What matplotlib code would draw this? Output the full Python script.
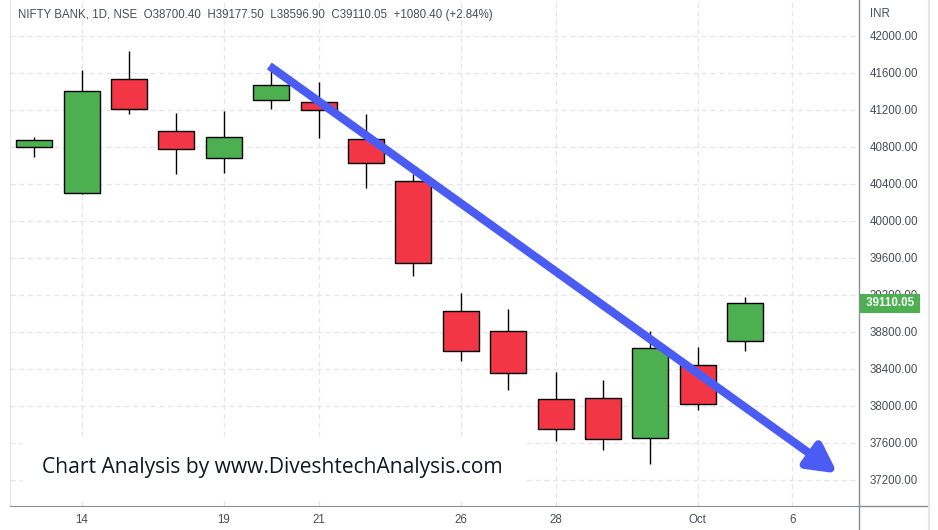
import matplotlib.pyplot as plt
from matplotlib.lines import Line2D
from matplotlib.transforms import blended_transform_factory

# daily candles, NIFTY BANK, 13 Sep - 4 Oct
opens = [40797, 40299, 41532, 40970, 40678, 41308, 41283, 40883,
         40429, 39027, 38807, 38072, 38083, 37651, 38440, 38700.40]
highs = [40908, 41632, 41838, 41164, 41189, 41654, 41506, 41157,
         40508, 39218, 39049, 38364, 38281, 38811, 38638, 39177.50]
lows = [40695, 40290, 41160, 40505, 40516, 41214, 40894, 40360,
        39409, 38490, 38176, 37622, 37524, 37376, 37960, 38596.90]
closes = [40872, 41405, 41208, 40775, 40908, 41467, 41197, 40624,
          39543, 38598, 38353, 37748, 37640, 38624, 38018, 39110.05]

tick_pos = [1, 4, 6, 9, 11, 14, 16]
tick_labels = ["14", "19", "21", "26", "28", "Oct", "6"]
price_ticks = [37200, 37600, 38000, 38400, 38800, 39200, 39600,
               40000, 40400, 40800, 41200, 41600, 42000]

trend_start = (4.96, 41676)
trend_end = (16.95, 37270)

title = ("NIFTY BANK, 1D, NSE  O38700.40  H39177.50  L38596.90  "
         "C39110.05  +1080.40 (+2.84%)")
watermark = "Chart Analysis by www.DiveshtechAnalysis.com"

GREEN = "#4caf50"
RED = "#f23645"
GRID = "#e3e5ea"
AXIS = "#8a8d96"
TXT = "#4a4d57"

W, H = 938, 530
fig = plt.figure(figsize=(W / 100, H / 100), dpi=100)
ax_left, ax_right, ax_bottom = 10, 859.3, 505.5
ax = fig.add_axes([ax_left / W, (H - ax_bottom) / H,
                   (ax_right - ax_left) / W, ax_bottom / H])

for i in range(len(opens)):
    o, h, l, c = opens[i], highs[i], lows[i], closes[i]
    col = GREEN if c >= o else RED
    ax.vlines(i, l, h, color="black", lw=1, zorder=2)
    ax.bar(i, abs(c - o), bottom=min(o, c), width=0.76, color=col,
           edgecolor="black", linewidth=1, zorder=3)

ax.annotate("", xy=trend_end, xytext=trend_start,
            arrowprops=dict(arrowstyle="-|>,head_length=0.85,head_width=0.45",
                            color="#4b5cf5", lw=6, mutation_scale=20,
                            shrinkA=0, shrinkB=0, capstyle="butt"),
            zorder=5)

ax.set_xlim(-0.513, 17.41)
ax.set_ylim(36924, 42389)

ax.set_axisbelow(True)
ax.set_xticks(tick_pos)
ax.set_xticklabels(tick_labels)
ax.set_yticks(price_ticks)
ax.set_yticklabels(["%.2f" % p for p in price_ticks])
ax.yaxis.tick_right()
ax.tick_params(axis="y", length=0, pad=7.5, labelsize=8.3, labelcolor=TXT)
ax.tick_params(axis="x", length=0, pad=6, labelsize=8.3, labelcolor=TXT)
for lab in ax.get_xticklabels() + ax.get_yticklabels():
    lab.set_fontfamily("Liberation Sans")
ax.grid(True, color=GRID, lw=0.9, linestyle=(0, (4, 3)))

ax.spines["top"].set_visible(False)
ax.spines["left"].set_color(GRID)
ax.spines["right"].set_visible(False)
ax.spines["bottom"].set_color(AXIS)

# price scale separator and outer frame
fig.add_artist(Line2D([ax_right / W] * 2, [0, 1], color=AXIS, lw=1))
fig.add_artist(Line2D([ax_right / W, 929 / W], [(H - ax_bottom) / H] * 2,
                      color=AXIS, lw=1))
fig.add_artist(Line2D([929 / W] * 2, [0, 1], color=GRID, lw=1.5))

# last price marker
tr = blended_transform_factory(ax.transAxes, ax.transData)
ax.text(1.0038, closes[-1], " %.2f " % closes[-1], transform=tr, ha="left",
        va="center", color="white", fontsize=8.3, fontweight="bold",
        family="Liberation Sans", clip_on=False, zorder=10,
        bbox=dict(boxstyle="square,pad=0.3", facecolor=GREEN,
                  edgecolor="none"))

fig.text(870 / W, 1 - 14 / H, "INR", ha="left", va="center", fontsize=8.3,
         color=TXT, family="Liberation Sans")
fig.text(18 / W, 1 - 15 / H, title, ha="left", va="center", fontsize=8.3,
         color=TXT, family="Liberation Sans")

ax.text((42 - ax_left) / (ax_right - ax_left), (ax_bottom - 468) / ax_bottom,
        watermark, transform=ax.transAxes, ha="left", va="center",
        fontsize=15.1, color="#131722", family="Open Sans", zorder=1,
        bbox=dict(boxstyle="square,pad=0.95", facecolor="white",
                  edgecolor="none"))

fig.savefig("out.png", dpi=100)
